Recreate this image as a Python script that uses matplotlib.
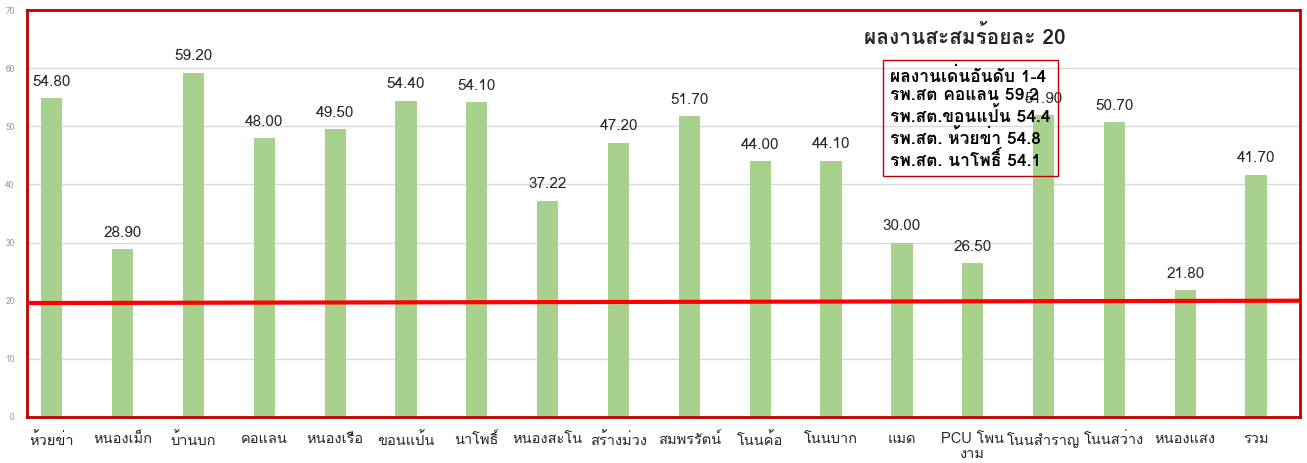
import matplotlib
matplotlib.use("Agg")
import matplotlib.pyplot as plt
from matplotlib import font_manager
from matplotlib.ft2font import FT2Font

# หาฟอนต์ที่มีอักษรไทย
def thai_font():
    for f in font_manager.fontManager.ttflist:
        try:
            if 0x0E01 in FT2Font(f.fname).get_charmap():
                return f.name
        except Exception:
            pass
    return None

th = thai_font()
fam = [th, 'DejaVu Sans'] if th else ['DejaVu Sans']
plt.rcParams['font.family'] = fam

labels = ['ห้วยข่า', 'หนองเม็ก', 'บ้านบก', 'คอแลน', 'หนองเรือ', 'ขอนแป้น', 'นาโพธิ์',
          'หนองสะโน', 'สร้างม่วง', 'สมพรรัตน์', 'โนนค้อ', 'โนนบาก', 'แมด', 'PCU โพน\nงาม',
          'โนนสำราญ', 'โนนสว่าง', 'หนองแสง', 'รวม']
values = [54.80, 28.90, 59.20, 48.00, 49.50, 54.40, 54.10, 37.22, 47.20, 51.70,
          44.00, 44.10, 30.00, 26.50, 51.90, 50.70, 21.80, 41.70]
target = [19.6, 20.0]
title = 'ผลงานสะสมร้อยละ 20'
top4 = ['ผลงานเด่นอันดับ 1-4', 'รพ.สต คอแลน 59.2', 'รพ.สต.ขอนแป้น 54.4',
        'รพ.สต. ห้วยข่า 54.8', 'รพ.สต. นาโพธิ์ 54.1']

fig = plt.figure(figsize=(13.07, 4.63), dpi=100)
ax = fig.add_axes([27/1307, 46/463, 1273/1307, 407/463])
x = list(range(len(values)))
ax.bar(x, values, width=0.3, color='#a9d18e', zorder=2)
for i, v in enumerate(values):
    ax.text(i, v + 1.6, '%.2f' % v, ha='center', va='bottom', fontsize=11, color='#262626')

ax.set_xlim(-0.35, len(values) - 0.38)
ax.set_ylim(0, 70)
ax.set_yticks(range(0, 71, 10))
ax.tick_params(axis='y', labelsize=6, colors='#999999', length=0, pad=9)
ax.set_xticks(x)
ax.set_xticklabels(labels, fontsize=10.5, color='#262626', linespacing=1.05)
ax.tick_params(axis='x', length=0, pad=11)
ax.grid(axis='y', color='#d9d9d9', linewidth=1, zorder=0)
for s in ax.spines.values():
    s.set_color('#c00000')
    s.set_linewidth(2)

# เส้นเป้าหมาย
ax.plot([-0.35, len(values) - 0.38], target, color='#ff0000', linewidth=3, zorder=3)

ax.text(0.737, 0.935, title, transform=ax.transAxes, ha='center', va='center',
        fontsize=15, fontweight='bold', color='#262626')
ax.text(0.678, 0.86, '\n'.join(top4), transform=ax.transAxes, ha='left', va='top',
        fontsize=12.5, fontweight='bold', color='#000000', linespacing=1.2, zorder=4,
        bbox=dict(boxstyle='square,pad=0.4', facecolor='none', edgecolor='#c00000', linewidth=1))

fig.savefig('out.png', dpi=100)
